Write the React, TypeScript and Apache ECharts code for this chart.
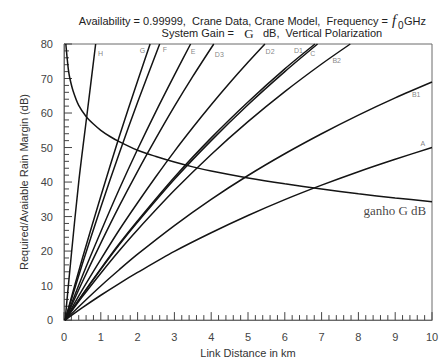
import React, { useEffect, useRef } from "react";
import * as echarts from "echarts";

// Curves: [link distance km, margin dB]
const curveH = [[0.03, 0], [0.2, 19], [0.4, 40], [0.63, 60], [0.86, 80]];
const curveG = [[0.03, 0], [0.5, 17.9], [1, 35.9], [1.5, 53.1], [2, 69.3], [2.34, 80]];
const curveF = [[0.03, 0], [0.5, 16.3], [1, 32.7], [1.5, 48.3], [2, 63.1], [2.6, 80]];
const curveE = [[0.03, 0], [0.5, 12.8], [1, 25.6], [1.5, 37.9], [2, 49.5], [2.5, 60.5], [3, 71.0], [3.44, 80]];
const curveD3 = [[0.03, 0], [0.5, 11.1], [1, 22.3], [1.5, 33.0], [2, 43.1], [2.5, 52.7], [3, 61.9], [3.5, 70.6], [4.07, 80]];
const curveD2 = [[0.03, 0], [0.5, 8.8], [1, 17.6], [1.5, 26.1], [2, 34.0], [2.5, 41.6], [3, 48.9], [3.5, 55.8], [4, 62.4], [4.5, 68.7], [5, 74.7], [5.46, 80]];
const curveD1 = [[0.03, 0], [0.5, 7.4], [1, 14.9], [1.5, 22.1], [2, 28.8], [3, 41.4], [4, 52.8], [5, 63.2], [6, 72.8], [6.82, 80]];
const curveC = [[0.03, 0], [0.5, 7.3], [1, 14.7], [1.5, 21.8], [2, 28.4], [3, 40.8], [4, 52.0], [5, 62.4], [6, 72.0], [6.89, 80]];
const curveB2 = [[0.03, 0], [0.5, 6.8], [1, 13.6], [1.5, 20.1], [2, 26.2], [3, 37.6], [4, 48.0], [5, 57.5], [6, 66.2], [7, 74.2], [7.78, 80]];
const curveB1 = [[0.03, 0], [0.5, 4.9], [1, 9.9], [1.5, 14.6], [2, 19.1], [3, 27.4], [4, 35.0], [5, 41.9], [6, 48.2], [7, 54.0], [8, 59.4], [9, 64.4], [10, 69]];
const curveA = [[0.03, 0], [0.5, 3.6], [1, 7.2], [1.5, 10.6], [2, 13.8], [3, 19.9], [4, 25.3], [5, 30.3], [6, 34.9], [7, 39.1], [8, 43.0], [9, 46.6], [10, 50]];
const curveGanho = [[0.05, 80], [0.08, 76.5], [0.12, 72.5], [0.16, 70], [0.25, 66.3], [0.4, 62.2], [0.6, 59], [0.8, 56.8], [1, 55], [1.25, 53.2], [1.5, 51.7], [2, 49.2], [2.5, 47.4], [3, 45.8], [3.5, 44.4], [4, 43.2], [5, 41.2], [6, 39.5], [7, 38], [8, 36.6], [9, 35.4], [10, 34.3]];

const curveNames = ["H", "G", "F", "E", "D3", "D2", "D1", "C", "B2", "B1", "A"];
const curveData = [curveH, curveG, curveF, curveE, curveD3, curveD2, curveD1, curveC, curveB2, curveB1, curveA];
// label anchor points in data coordinates
const labelPoints = [[0.99, 77.2], [2.13, 78.1], [2.74, 78.3], [3.51, 77.8], [4.22, 76.9], [5.6, 77.8], [6.37, 78.1], [6.76, 77.2], [7.41, 75.1], [9.57, 65.3], [9.75, 51.1]];
const ganhoLabel = "ganho G dB";
const ganhoLabelPoint = [8.99, 31.8];

const xLabels = ["0", "1", "2", "3", "4", "5", "6", "7", "8", "9", "10"];

// axis tick marks along the scales: [value, isMajor]
const xTickMarks: [number, number][] = [];
for (let i = 0; i <= 50; i++) xTickMarks.push([i * 0.2, i % 5 === 0 ? 1 : 0]);
const yTickMarks: [number, number][] = [];
for (let i = 0; i <= 40; i++) yTickMarks.push([i % 5 === 0 ? 1 : 0, i * 2]);

export default function App() {
  const ref = useRef<HTMLDivElement>(null);
  useEffect(() => {
    const chart = echarts.init(ref.current!, null, { renderer: "svg" });
    const lineSeries = curveData.map((d, i) => ({
      type: "line",
      name: curveNames[i],
      data: d,
      showSymbol: false,
      smooth: 0.3,
      lineStyle: { color: "#141414", width: 1.5 },
      z: 3,
    }));
    const titleFont = "Liberation Sans";
    const axisGray = "#6a6a6a";
    const tickGray = "#444444";
    chart.setOption({
      animation: false,
      backgroundColor: "#ffffff",
      grid: { left: 64, right: 14, top: 44, bottom: 38, show: true, borderColor: axisGray, borderWidth: 1, backgroundColor: "transparent" },
      xAxis: {
        type: "value",
        min: 0,
        max: 10,
        interval: 1,
        name: "Link Distance in km",
        nameLocation: "middle",
        nameGap: 26,
        nameTextStyle: { color: "#333", fontSize: 11, fontFamily: titleFont },
        axisLine: { show: true, onZero: false, lineStyle: { color: axisGray, width: 1 } },
        axisTick: { show: false },
        axisLabel: { color: "#444", fontSize: 11, margin: 11, fontFamily: titleFont, formatter: (v: number) => xLabels[Math.round(v)] ?? String(v) },
        splitLine: { show: false },
      },
      yAxis: {
        type: "value",
        min: 0,
        max: 80,
        interval: 10,
        name: "Required/Avaiable Rain Margin (dB)",
        nameLocation: "middle",
        nameGap: 27,
        nameTextStyle: { color: "#333", fontSize: 11, fontFamily: titleFont },
        axisLine: { show: true, onZero: false, lineStyle: { color: axisGray, width: 1 } },
        axisTick: { show: false },
        axisLabel: { color: "#444", fontSize: 11, margin: 11, fontFamily: titleFont },
        splitLine: { show: false },
      },
      series: [
        {
          type: "custom",
          silent: true,
          clip: false,
          data: xTickMarks,
          encode: { x: 0, y: 1 },
          renderItem: (params: any, api: any) => {
            const p = api.coord([api.value(0), 0]);
            const len = api.value(1) ? 8 : 5;
            return { type: "line", shape: { x1: p[0], y1: p[1], x2: p[0], y2: p[1] - len }, style: { stroke: tickGray, lineWidth: 1 } };
          },
          z: 1,
        },
        {
          type: "custom",
          silent: true,
          clip: false,
          data: yTickMarks,
          encode: { x: 0, y: 1 },
          renderItem: (params: any, api: any) => {
            const p = api.coord([0, api.value(1)]);
            const len = api.value(0) ? 8 : 5;
            return { type: "line", shape: { x1: p[0], y1: p[1], x2: p[0] + len, y2: p[1] }, style: { stroke: tickGray, lineWidth: 1 } };
          },
          z: 1,
        },
        ...lineSeries,
        {
          type: "line",
          name: ganhoLabel,
          data: curveGanho,
          showSymbol: false,
          smooth: 0.3,
          lineStyle: { color: "#141414", width: 1.5 },
          z: 3,
        },
        {
          type: "scatter",
          symbolSize: 0,
          silent: true,
          data: labelPoints.map((p, i) => ({ value: p, name: curveNames[i] })),
          label: {
            show: true,
            position: "inside",
            formatter: (p: any) => p.name,
            color: "#666",
            fontSize: 7,
            fontFamily: titleFont,
          },
        },
        {
          type: "scatter",
          symbolSize: 0,
          silent: true,
          data: [{ value: ganhoLabelPoint, name: ganhoLabel }],
          label: {
            show: true,
            position: "inside",
            formatter: (p: any) => p.name,
            color: "#111",
            fontSize: 13,
            fontFamily: "Liberation Serif",
          },
        },
      ],
      graphic: [
        { type: "text", x: 388, y: 21, style: { text: "Availability = 0.99999,  Crane Data, Crane Model,  Frequency =", align: "right", verticalAlign: "middle", fontSize: 11, fontFamily: titleFont, fill: "#222" } },
        { type: "text", x: 392, y: 20, style: { text: "f", align: "left", verticalAlign: "middle", fontSize: 15, fontStyle: "italic", fontFamily: "Liberation Serif", fill: "#222" } },
        { type: "text", x: 398, y: 25, style: { text: "0", align: "left", verticalAlign: "middle", fontSize: 10, fontFamily: titleFont, fill: "#222" } },
        { type: "text", x: 404, y: 21, style: { text: "GHz", align: "left", verticalAlign: "middle", fontSize: 11, fontFamily: titleFont, fill: "#222" } },
        { type: "text", x: 234, y: 33, style: { text: "System Gain =", align: "right", verticalAlign: "middle", fontSize: 11, fontFamily: titleFont, fill: "#222" } },
        { type: "text", x: 249, y: 33, style: { text: "G", align: "center", verticalAlign: "middle", fontSize: 13, fontFamily: "Liberation Serif", fill: "#222" } },
        { type: "text", x: 263, y: 33, style: { text: "dB,  Vertical Polarization", align: "left", verticalAlign: "middle", fontSize: 11, fontFamily: titleFont, fill: "#222" } },
      ],
    });
    return () => chart.dispose();
  }, []);
  return <div ref={ref} style={{ position: "fixed", left: 0, top: 0, width: 446, height: 363, background: "#fff" }} />;
}
